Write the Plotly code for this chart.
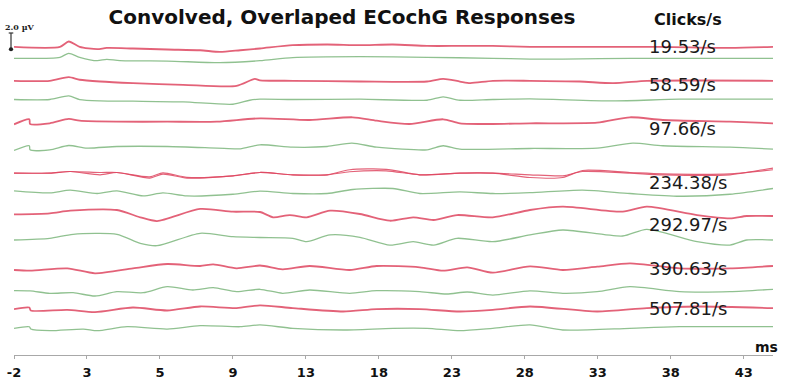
import plotly.graph_objects as go

# ---------------- data (time in tick-grid units, amplitude in µV) ----------------
rates = ["19.53/s", "58.59/s", "97.66/s", "234.38/s", "292.97/s", "390.63/s", "507.81/s"]
tick_labels = ["-2", "3", "5", "9", "13", "18", "23", "28", "33", "38", "43"]

red_19 = [(0, 0.04), (0.63, 0.04), (0.75, 0.71), (0.90, 0.04), (1.14, -0.25), (1.27, -0.09), (1.63, -0.16),
          (2.10, -0.29), (2.55, -0.38), (2.82, -0.59), (3.10, -0.38), (3.37, -0.16), (3.82, 0.25), (4.29, 0.34),
          (4.74, 0.25), (5.19, 0.34), (5.66, 0.16), (6.11, 0.16), (6.56, 0.16), (7.07, 0.04), (7.52, 0.04),
          (8.21, 0.04), (8.89, 0.04), (9.81, -0.09), (10.40, 0.04)]
green_19 = [(0, -0.04), (0.63, 0.09), (0.75, 0.59), (0.90, 0.09), (1.14, -0.34), (1.27, -0.16), (1.45, -0.34),
            (2.10, -0.38), (2.82, -0.59), (3.37, -0.34), (3.82, 0.04), (4.74, 0.16), (5.66, 0.09), (6.56, -0.04),
            (7.07, -0.13), (7.52, -0.13), (8.44, -0.04), (10.40, -0.04)]

red_58 = [(0, 0), (0.49, 0), (0.75, 0.46), (0.90, 0.13), (1.18, -0.09), (1.63, -0.29), (2.32, -0.5), (3.05, -0.63),
          (3.30, 0.25), (3.37, 0.06), (3.82, 0), (4.74, -0.09), (5.66, -0.09), (5.88, 0.25), (6.11, -0.09),
          (6.25, -0.29), (6.56, 0), (7.07, 0), (7.75, -0.09), (8.21, -0.29), (8.67, 0), (9.36, 0.04), (10.40, 0)]
green_58 = [(0, -0.04), (0.49, -0.04), (0.75, 0.41), (0.90, -0.04), (1.18, -0.21), (1.63, -0.25), (2.32, -0.34),
            (3.0, -0.63), (3.23, -0.13), (3.37, 0), (3.82, -0.04), (4.74, 0), (5.66, -0.13), (5.88, 0.29),
            (6.11, -0.13), (6.56, -0.04), (7.07, 0.04), (8.21, -0.21), (9.12, 0), (10.40, 0)]

red_97 = [(0, -0.29), (0.21, 0.34), (0.22, -0.25), (0.49, -0.16), (0.75, 0.38), (0.90, 0.16), (1.41, 0.04),
          (2.10, 0.04), (2.78, 0.04), (3.37, 0.46), (4.05, 0.25), (4.64, 0.59), (4.97, 0.16), (5.42, -0.25),
          (5.88, 0.34), (6.11, -0.16), (6.56, -0.25), (7.07, -0.16), (7.99, -0.09), (8.44, 0.59), (8.89, 0.25),
          (9.81, 0.04), (10.40, -0.16)]
green_97 = [(0, -0.21), (0.21, 0.38), (0.22, -0.13), (0.49, -0.13), (0.75, 0.41), (1.0, 0.09), (1.41, 0.29),
            (2.10, 0.29), (2.78, 0.09), (3.10, 0), (3.37, 0.5), (3.82, 0.21), (4.29, 0.29), (4.63, 0.71),
            (4.97, 0.21), (5.66, -0.13), (5.88, 0.38), (6.11, -0.04), (7.07, 0.04), (7.99, 0.09), (8.48, 0.71),
            (8.89, 0.38), (9.81, 0.21), (10.40, -0.04)]

red_234_a = [(0, -0.04), (0.49, -0.04), (0.77, 0.16), (1.18, -0.25), (1.41, 0.04), (1.86, -0.66), (2.04, -0.16),
             (2.37, -0.66), (3.0, -0.38), (3.37, 0.04), (3.82, -0.25), (4.29, -0.25), (4.60, 0.13), (5.10, 0.25),
             (5.56, -0.25), (6.11, -0.04), (6.56, -0.04), (7.07, -0.25), (7.52, -0.38), (7.79, 0.16), (8.44, -0.04),
             (8.89, -0.25), (9.81, -0.25), (10.26, 0.38), (10.40, 0.59)]
red_234_b = [(0, -0.04), (0.49, -0.04), (0.77, 0.16), (1.18, 0.04), (1.41, 0.04), (1.86, -0.5), (2.04, 0),
             (2.37, -0.56), (3.0, -0.38), (3.37, 0.04), (3.82, -0.25), (4.29, -0.25), (4.60, 0.38), (5.10, 0.44),
             (5.56, -0.25), (6.11, -0.04), (6.56, -0.04), (7.07, -0.59), (7.52, -0.59), (7.79, 0.29), (8.44, 0.04),
             (8.89, -0.13), (9.81, -0.13), (10.26, 0.25), (10.40, 0.38)]
green_234 = [(0, 0.04), (0.49, -0.21), (0.77, 0.13), (1.14, -0.29), (1.41, 0.04), (1.77, -0.59), (2.04, -0.21),
             (2.37, -0.59), (3.0, -0.38), (3.37, 0), (3.82, -0.29), (4.29, -0.29), (4.64, 0.21), (5.19, 0.34),
             (5.56, -0.29), (6.11, -0.09), (6.56, -0.29), (7.07, -0.19), (7.79, 0.13), (8.44, -0.29),
             (9.12, -0.63), (9.81, -0.38), (10.40, 0.34)]

red_292 = [(0, -0.29), (0.49, -0.16), (0.77, 0.16), (1.41, 0.25), (1.73, -0.66), (1.96, -1.13), (2.55, 0.38),
           (3.0, 0.04), (3.37, 0), (3.55, -0.66), (3.78, -0.38), (4.01, -0.66), (4.33, 0.16), (4.74, -0.25),
           (5.15, -1.09), (5.47, -0.66), (5.75, -1.0), (6.07, -0.38), (6.56, -0.66), (7.07, 0.25), (7.52, 0.66),
           (8.34, 0.04), (8.67, 0.66), (9.36, -0.38), (9.81, -0.79), (10.04, -0.5), (10.40, -0.5)]
green_292 = [(0, -0.25), (0.49, -0.04), (0.81, 0.46), (1.41, 0.46), (1.73, -0.66), (1.96, -0.96), (2.55, 0.59),
             (3.0, 0.16), (3.37, 0.06), (3.82, -0.04), (4.01, -0.46), (4.33, 0.38), (4.74, 0.09), (5.15, -0.88),
             (5.47, -0.46), (5.75, -0.88), (6.07, -0.04), (6.56, -0.46), (7.07, 0.38), (7.52, 1.0), (8.34, 0.25),
             (8.67, 1.09), (9.36, -0.46), (9.81, -0.88), (10.04, -0.25), (10.40, -0.25)]

red_390 = [(0, 0), (0.22, -0.09), (0.73, 0.21), (1.11, -0.41), (1.63, 0.21), (2.10, 0.75), (2.55, 0.5),
           (2.73, 0.71), (3.05, 0.21), (3.37, 0.56), (3.68, 0.09), (4.05, 0.5), (4.60, 0), (4.97, 0.5),
           (5.56, 0.34), (5.88, -0.09), (6.21, 0.34), (6.56, -0.34), (7.07, 0.46), (7.52, 0), (7.99, 0.41),
           (8.44, 0.84), (9.12, 0.21), (9.81, 0.21), (10.40, 0.5)]
green_390 = [(0, 0.16), (0.22, 0.13), (0.49, -0.16), (0.81, -0.09), (1.11, -0.5), (1.41, 0.04), (1.77, -0.09),
             (2.10, 0.66), (2.45, 0.25), (2.73, 0.54), (3.05, 0.04), (3.37, 0.34), (3.68, -0.16), (4.05, 0.25),
             (4.60, -0.16), (4.97, 0.16), (5.56, 0.04), (5.93, -0.25), (6.21, 0), (6.56, -0.38), (7.07, 0.15),
             (7.52, -0.16), (7.99, 0.04), (8.44, 0.66), (9.12, 0.04), (9.81, 0.04), (10.40, 0.34)]

red_507 = [(0, -0.04), (0.21, 0.16), (0.23, -0.21), (0.73, -0.13), (1.11, -0.41), (1.63, 0.16), (2.10, -0.21),
           (2.55, 0.29), (3.05, 0.09), (3.37, 0.44), (3.82, 0.09), (4.51, -0.34), (4.97, -0.04), (5.56, -0.04),
           (6.11, -0.34), (6.56, -0.13), (7.07, 0.29), (7.99, -0.34), (8.67, 0.09), (9.36, 0.29), (10.40, 0.09)]
green_507 = [(0, -0.04), (0.21, 0.16), (0.23, -0.13), (0.49, -0.34), (0.95, -0.13), (1.14, -0.34), (1.55, 0.16),
             (2.10, -0.13), (2.55, 0.29), (3.10, 0.16), (3.37, 0.38), (3.82, -0.04), (4.51, -0.25), (5.19, -0.04),
             (5.66, -0.04), (6.11, -0.34), (6.56, -0.04), (7.07, 0.38), (7.52, -0.25), (8.44, -0.04),
             (9.12, 0.16), (9.81, 0.16), (10.40, 0.16)]

# ---------------- layout / styling ----------------
RED = "rgba(222, 70, 96, 0.85)"
GREEN = "rgba(125, 182, 125, 0.85)"
W, H = 787, 384
ML, MR, MT, MB = 14, 14, 20, 29
PX_PER_UV = 8.0
y_top = 0.0
y_bot = -(H - MT - MB) / PX_PER_UV


def px_x(px):
    return (px - ML) / (W - ML - MR)


def px_y(px):
    return (H - MB - px) / (H - MT - MB)


# stacking offsets (µV)
rows = [
    ([red_19], [green_19], -3.40, -4.75),
    ([red_58], [green_58], -7.60, -9.90),
    ([red_97], [green_97], -12.75, -16.10),
    ([red_234_a, red_234_b], [green_234], -19.10, -21.40),
    ([red_292], [green_292], -24.00, -27.25),
    ([red_390], [green_390], -31.25, -34.00),
    ([red_507], [green_507], -36.10, -38.50),
]
label_offsets = [-3.35, -8.1, -13.5, -20.25, -25.5, -31.0, -36.1]

fig = go.Figure()
for reds, greens, off_r, off_g in rows:
    for s in greens:
        fig.add_trace(go.Scatter(x=[p[0] for p in s], y=[p[1] + off_g for p in s], mode="lines",
                                 line=dict(color=GREEN, width=1.3, shape="spline", smoothing=0.7),
                                 hoverinfo="skip", showlegend=False))
    for s in reds:
        fig.add_trace(go.Scatter(x=[p[0] for p in s], y=[p[1] + off_r for p in s], mode="lines",
                                 line=dict(color=RED, width=1.8 if len(reds) == 1 else 1.2,
                                           shape="spline", smoothing=0.7),
                                 hoverinfo="skip", showlegend=False))

annotations = []
for lab, yo in zip(rates, label_offsets):
    annotations.append(dict(x=px_x(647), xref="paper", y=yo, yref="y", text=lab,
                            showarrow=False, xanchor="left", yanchor="middle",
                            font=dict(family="DejaVu Sans", size=18, color="#1a1a1a")))
annotations.append(dict(x=px_x(688), xref="paper", y=px_y(19), yref="paper", text="<b>Clicks/s</b>",
                        showarrow=False, xanchor="center", yanchor="middle",
                        font=dict(family="DejaVu Sans", size=16, color="#111")))
annotations.append(dict(x=px_x(766), xref="paper", y=px_y(347), yref="paper", text="<b>ms</b>",
                        showarrow=False, xanchor="center", yanchor="middle",
                        font=dict(family="DejaVu Sans", size=14, color="#111")))
annotations.append(dict(x=px_x(3), xref="paper", y=px_y(27), yref="paper", text="<b>2.0 µV</b>",
                        showarrow=False, xanchor="left", yanchor="middle",
                        font=dict(family="DejaVu Serif", size=8, color="#222")))

scale_x = px_x(11)
shapes = [
    dict(type="line", xref="paper", yref="y", x0=scale_x, x1=scale_x, y0=-1.625, y1=-3.625,
         line=dict(color="#333", width=1.2)),
    dict(type="line", xref="paper", yref="y", x0=scale_x - 0.003, x1=scale_x + 0.003, y0=-1.625, y1=-1.625,
         line=dict(color="#333", width=1.2)),
    dict(type="circle", xref="paper", yref="y", x0=scale_x - 0.0028, x1=scale_x + 0.0028, y0=-3.4, y1=-3.9,
         fillcolor="#222", line=dict(color="#222", width=0)),
]

fig.update_layout(
    width=W, height=H, margin=dict(l=ML, r=MR, t=MT, b=MB, autoexpand=False),
    paper_bgcolor="white", plot_bgcolor="white",
    title=dict(text="<b>Convolved, Overlaped ECochG Responses</b>", x=342 / W, xanchor="center",
               y=1 - 17 / H, yanchor="middle", yref="container",
               font=dict(family="DejaVu Sans", size=20, color="#111")),
    xaxis=dict(range=[0, 10.4], tickvals=list(range(len(tick_labels))),
               ticktext=[f"<b>{t}</b>" for t in tick_labels], showgrid=False, zeroline=False,
               showline=True, linecolor="#a8a8a8", linewidth=1, ticks="outside", ticklen=3,
               tickcolor="#a8a8a8", automargin=False, ticklabelstandoff=2,
               tickfont=dict(family="DejaVu Sans", size=13, color="#111")),
    yaxis=dict(range=[y_bot, y_top], visible=False, automargin=False),
    annotations=annotations, shapes=shapes,
)

fig.write_html("out.html", config={"displayModeBar": False},
               post_script="document.body.style.margin='0px';document.body.style.overflow='hidden';")
